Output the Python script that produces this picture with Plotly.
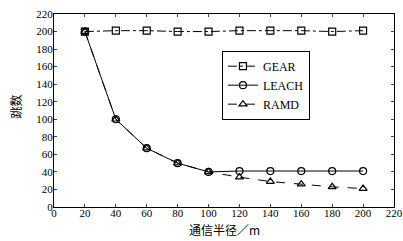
import plotly.graph_objects as go

x_vals = [20, 40, 60, 80, 100, 120, 140, 160, 180, 200]
gear = [200, 201, 201, 200, 200, 201, 201, 201, 200, 201]
leach = [200, 100, 67, 50, 40, 41, 41, 41, 41, 41]
ramd = [200, 100, 67, 50, 40, 34, 29, 26, 23, 21]
x_ticks = [0, 20, 40, 60, 80, 100, 120, 140, 160, 180, 200, 220]
y_ticks = [0, 20, 40, 60, 80, 100, 120, 140, 160, 180, 200, 220]

FONT = "Liberation Serif, Times New Roman, Noto Sans CJK SC, serif"
CJK = "Noto Sans CJK SC, Liberation Serif"

fig = go.Figure()
fig.add_trace(go.Scatter(x=x_vals, y=gear, name="GEAR", mode="lines+markers",
                         line=dict(color="black", width=1, dash="dashdot"),
                         marker=dict(symbol="square-open", size=7, color="black", line=dict(width=1.2))))
fig.add_trace(go.Scatter(x=x_vals, y=leach, name="LEACH", mode="lines+markers",
                         line=dict(color="black", width=1),
                         marker=dict(symbol="circle-open", size=7, color="black", line=dict(width=1.2))))
fig.add_trace(go.Scatter(x=x_vals, y=ramd, name="RAMD", mode="lines+markers",
                         line=dict(color="black", width=1, dash="dash"),
                         marker=dict(symbol="triangle-up-open", size=7, color="black", line=dict(width=1.2))))

fig.update_layout(
    width=403, height=241,
    margin=dict(l=54, r=9, t=14, b=34, autoexpand=False),
    paper_bgcolor="white", plot_bgcolor="white",
    font=dict(family=FONT, size=11, color="black"),
    showlegend=True,
    legend=dict(x=0.494, y=0.81, xanchor="left", yanchor="top",
                bordercolor="black", borderwidth=1, bgcolor="white",
                font=dict(family=FONT, size=12), tracegroupgap=0,
                itemwidth=30),
    annotations=[
        dict(text="通信半径／m", xref="paper", yref="paper", x=0.5, y=-0.06,
             xanchor="center", yanchor="top", showarrow=False,
             font=dict(family=CJK, size=12)),
        dict(text="跳数", xref="paper", yref="paper", x=-0.112, y=0.52,
             xanchor="center", yanchor="middle", showarrow=False, textangle=-90,
             font=dict(family=CJK, size=12)),
    ],
)
fig.update_xaxes(range=[0, 220], tickvals=x_ticks, ticks="inside", ticklen=3,
                 showline=True, linecolor="black", linewidth=1, mirror="ticks",
                 showgrid=False, zeroline=False, automargin=False,
                 ticklabelstandoff=-4)
fig.update_yaxes(range=[0, 220], tickvals=y_ticks, ticks="inside", ticklen=3,
                 showline=True, linecolor="black", linewidth=1, mirror="ticks",
                 showgrid=False, zeroline=False, automargin=False,
                 ticklabelstandoff=-2)

fig.write_html("out.html", config={"displayModeBar": False},
               post_script="document.body.style.margin='0';")
